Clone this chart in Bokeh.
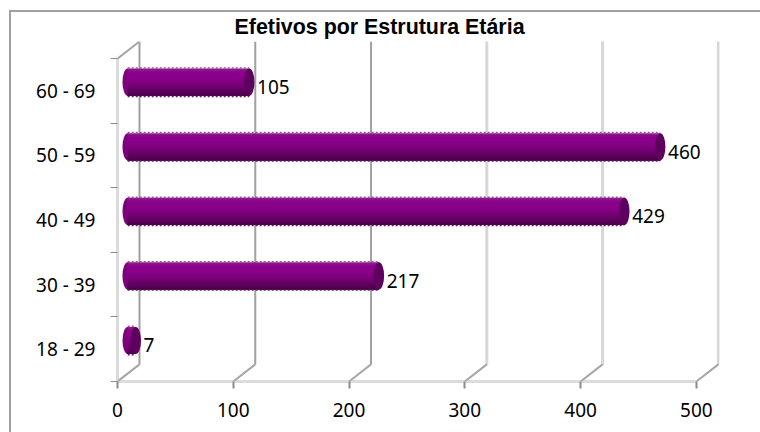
from bokeh.embed import file_html
from bokeh.resources import INLINE
from bokeh.plotting import figure
from bokeh.models import Range1d, FixedTicker, ColumnDataSource, InlineStyleSheet
from bokeh.core.properties import value

TITLE = "Efetivos por Estrutura Etária"
categories = ["18 - 29", "30 - 39", "40 - 49", "50 - 59", "60 - 69"]
values = [7, 217, 429, 460, 105]
x_ticks = [0, 100, 200, 300, 400, 500]
solid_walls = [0, 100, 200]
dotted_walls = [300, 400, 500]

DX, DY = 19.0, 0.265       # depth of the 3D box, in data units
BAR_X, BAR_Y = 8.8, 0.135  # bars sit half way in the depth
BAR_H = 0.42
CAP_W = 9.0
n = len(categories)
centers = [i + 0.5 for i in range(n)]
FONT = "Noto Sans"

frame_css = InlineStyleSheet(css=""":host::after {
  content: ""; position: absolute; left: 9px; top: 10px; right: 0; bottom: 0;
  border-left: 2px solid #a0a0a0; border-top: 2px solid #a0a0a0; pointer-events: none;
}""")

p = figure(width=760, height=432, toolbar_location=None, output_backend="svg",
           x_range=Range1d(0, 520), y_range=Range1d(0, n + DY),
           min_border_left=117, min_border_right=41, min_border_top=41, min_border_bottom=51,
           outline_line_color=None, background_fill_color="white", border_fill_color="white",
           stylesheets=[frame_css])

# title
p.title.text = TITLE
p.title.align = "left"
p.title.offset = 117
p.title.standoff = 6
p.title.text_font = "Liberation Sans"
p.title.text_font_style = "bold"
p.title.text_font_size = "21.4px"
p.title.text_color = "#000000"

p.grid.visible = False

# x axis
xa = p.xaxis[0]
xa.ticker = FixedTicker(ticks=x_ticks)
xa.bounds = (x_ticks[0], x_ticks[-1])
xa.axis_line_color = "#b8b8b8"
xa.axis_line_width = 3
xa.axis_line_dash = "1 1"
xa.major_tick_line_color = "#8c8c8c"
xa.major_tick_line_width = 2
xa.major_tick_in = 0
xa.major_tick_out = 7
xa.minor_tick_line_color = None
xa.major_label_standoff = 14
xa.major_label_text_font = FONT
xa.major_label_text_font_size = "19px"
xa.major_label_text_color = "#000000"

# y axis
ya = p.yaxis[0]
ya.ticker = FixedTicker(ticks=centers, minor_ticks=list(range(n + 1)))
ya.major_label_overrides = {c: t for c, t in zip(centers, categories)}
ya.bounds = (0, n)
ya.axis_line_color = "#b8b8b8"
ya.axis_line_width = 3
ya.axis_line_dash = "1 1"
ya.major_tick_line_color = None
ya.major_tick_in = 0
ya.major_tick_out = 0
ya.minor_tick_line_color = "#8c8c8c"
ya.minor_tick_line_width = 1
ya.minor_tick_in = 0
ya.minor_tick_out = 7
ya.major_label_standoff = 15
ya.major_label_text_font = FONT
ya.major_label_text_font_size = "19px"
ya.major_label_text_color = "#000000"

# 3D walls
p.segment(x0=[t + DX for t in solid_walls], x1=[t + DX for t in solid_walls],
          y0=[DY] * len(solid_walls), y1=[n + DY] * len(solid_walls),
          line_color="#a0a0a0", line_width=2)
p.segment(x0=[t + DX for t in dotted_walls], x1=[t + DX for t in dotted_walls],
          y0=[DY] * len(dotted_walls), y1=[n + DY] * len(dotted_walls),
          line_color="#b0b0b0", line_width=3, line_dash="1 1")
p.segment(x0=x_ticks, x1=[t + DX for t in x_ticks],
          y0=[0] * len(x_ticks), y1=[DY] * len(x_ticks),
          line_color="#a6a6a6", line_width=2)
p.segment(x0=[0], x1=[DX], y0=[n], y1=[n + DY], line_color="#a6a6a6", line_width=2)

# bars: cylinder shading from nested strips, painted top to bottom
shades = ["#8a1a8a", "#8b0a8b", "#8b008b", "#8b008b", "#8b008b", "#870087", "#830083",
          "#7e007e", "#790079", "#730073", "#6d006d", "#660066", "#5e005e", "#550055", "#4c004c"]
lefts = [BAR_X] * n
rights = [v + BAR_X for v in values]
strip_h = BAR_H / len(shades)
ys = [c + BAR_Y for c in centers]
p.ellipse(x=lefts, y=ys, width=CAP_W, height=BAR_H, fill_color="#7d007d", line_color=None)
for k, shade in enumerate(shades):
    p.hbar(y=[y - strip_h * k / 2 for y in ys], left=lefts, right=rights,
           height=BAR_H - strip_h * k, fill_color=shade, line_color=None)
p.ellipse(x=rights, y=ys, width=CAP_W, height=BAR_H, fill_color="#5e005e", line_color=None)

# toothed edges of the cylinders
p.segment(x0=lefts, x1=rights, y0=[y + BAR_H / 2 + 0.01 for y in ys], y1=[y + BAR_H / 2 + 0.01 for y in ys],
          line_color="#a050a0", line_width=1.5, line_dash="2 2")
p.segment(x0=lefts, x1=rights, y0=[y - BAR_H / 2 - 0.01 for y in ys], y1=[y - BAR_H / 2 - 0.01 for y in ys],
          line_color="#5a1a5a", line_width=1.5, line_dash="2 2")

# data labels
src = ColumnDataSource(dict(x=values, y=[c + 0.06 for c in centers], t=[str(v) for v in values]))
p.text(x="x", y="y", text="t", source=src, x_offset=18, text_baseline="middle", text_align="left",
       text_font=value(FONT), text_font_size="19px", text_color="#000000")

open("out.html", "w").write(file_html(p, INLINE))
